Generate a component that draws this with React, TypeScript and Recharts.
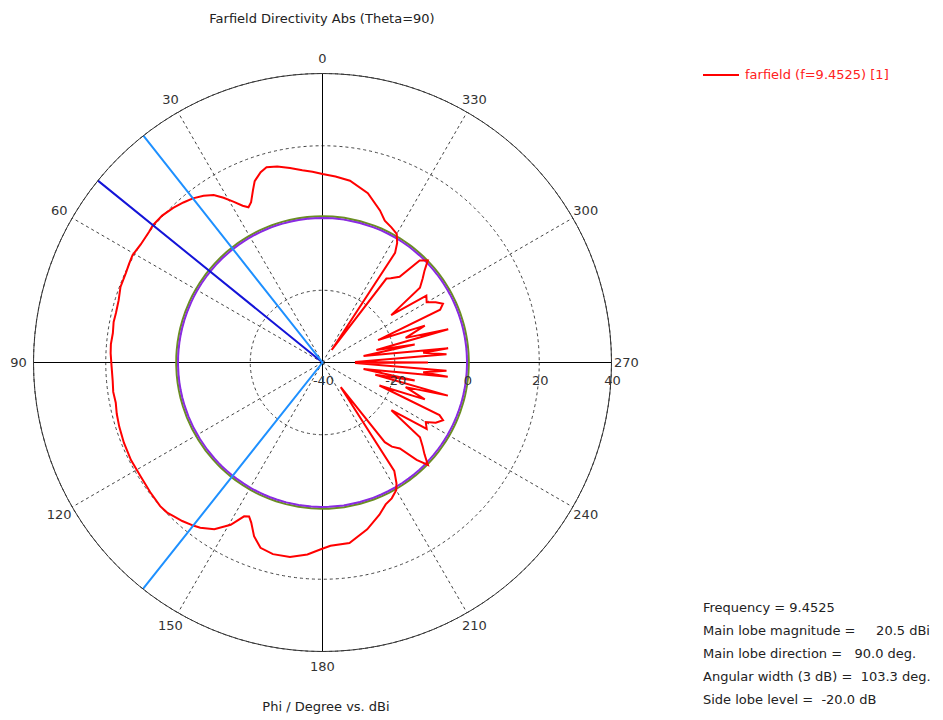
import React from 'react';
import { RadarChart, Radar, PolarGrid, PolarAngleAxis, PolarRadiusAxis, Legend } from 'recharts';

// phi in degrees, farfield directivity in dBi
const PHI = [
  0, 3, 6, 9.5, 13, 16, 18, 20.5, 22, 24,
  25.5, 27, 29, 31, 33, 35.5, 38.3, 41, 44, 47.5,
  51, 53, 57, 60.5, 63, 65.5, 69.5, 73, 76.5, 79,
  82, 85, 87.5, 91, 95, 98, 101, 104, 107.5, 112,
  117, 122, 127, 131.5, 134, 136, 138.5, 141.6, 143.5, 147,
  150.5, 153, 154.5, 156, 158.5, 161.5, 165.5, 170.5, 175.5, 179.5,
  182.5, 188.5, 195, 200.5, 204, 207, 210, 211.5, 213.5, 216.5,
  218, 219.5, 222, 224, 225.8, 228, 230, 232.5, 235.3, 237.5,
  240, 242, 244.4, 245.8, 248, 250.2, 253.5, 255.2, 257, 259,
  261, 263.5, 264.5, 266.2, 269, 270, 271, 273.8, 275.5, 276.5,
  279, 281, 283, 284.8, 286.5, 289.8, 292, 294.2, 296, 298,
  300, 302.8, 304.6, 307.5, 310, 312, 314.1, 316.4, 318, 321,
  322.7, 323.7, 326.5, 328, 330, 333, 336.3, 339.3, 345, 351.4,
  356,
];

const FARFIELD = [
  12.2, 12.9, 13.5, 14.6, 15.7, 16.2, 15.4, 13.6, 11.4, 8.6,
  7.6, 8.7, 10.9, 13.2, 15.3, 16.7, 17.9, 18.7, 19.5, 20.2,
  20.4, 20.1, 20.0, 20.4, 20.1, 19.8, 19.7, 19.0, 18.8, 18.9,
  18.6, 18.8, 18.7, 18.4, 18.3, 18.5, 18.3, 18.7, 19.0, 19.3,
  19.5, 19.4, 19.7, 20.0, 19.8, 19.2, 18.6, 17.6, 16.9, 15.0,
  11.6, 7.8, 7.2, 8.5, 11.7, 14.1, 14.8, 14.6, 13.3, 11.7,
  10.8, 10.5, 7.8, 5.0, 3.0, 2.2, 0.8, -0.8, -4, -31.5,
  -12, -9.8, -8, -2.5, 0.7, -2, -3.8, -6, -16.8, -5.8,
  -7, -4.5, -3.0, -4.5, -23, -9.9, -16, -4.1, -25, -14,
  -28.5, -5.1, -12, -5.6, -31, -10.8, -31, -5.6, -12, -5.0,
  -28.5, -14, -24.7, -4.0, -16, -9.9, -23.4, -4.3, -2.9, -4.5,
  -6.7, -5.8, -16.9, -6, -3.8, -2, 0.6, -1.0, -8.1, -10,
  -10.8, -35.7, -3.6, -1.0, 1.1, 2.0, 2.9, 5.0, 8.5, 10.9,
  11.6,
];

const MAIN_LOBE_PHI = 51;
const BEAM_EDGE_PHI = [38.3, 141.6];
const SIDE_LOBE_DBI = 0.5;
const REF_DBI = 0;
const R_MIN = -40;
const R_MAX = 40;
const ANGLE_TICKS = [0, 30, 60, 90, 120, 150, 180, 210, 240, 270, 300, 330];
const STATS = [
  'Frequency = 9.4525',
  'Main lobe magnitude =     20.5 dBi',
  'Main lobe direction =   90.0 deg.',
  'Angular width (3 dB) =  103.3 deg.',
  'Side lobe level =  -20.0 dB',
];

const data = PHI.map((phi, i) => ({
  phi,
  farfield: FARFIELD[i],
  sll: SIDE_LOBE_DBI,
  ref: REF_DBI,
  main: phi === MAIN_LOBE_PHI ? R_MAX : R_MIN,
  beam: BEAM_EDGE_PHI.includes(phi) ? R_MAX : R_MIN,
}));

const FONT = "'DejaVu Sans', sans-serif";

const AngleTick = (props: any) => {
  const { x, y, payload } = props;
  if (payload.value === 360) return <g />;
  return (
    <text x={x} y={y} textAnchor="middle" dominantBaseline="central" fill="#333" fontSize={13} fontFamily={FONT}>
      {payload.value}
    </text>
  );
};

const RadiusTick = (props: any) => {
  const { x, y, payload } = props;
  return (
    <text x={x + 1} y={y + 18} textAnchor="middle" dominantBaseline="central" fill="#333" fontSize={13} fontFamily={FONT}>
      {payload.value}
    </text>
  );
};

const renderLegend = (props: any) => {
  const items = (props.payload || []).filter((p: any) => p.type !== 'none');
  return (
    <div>
      {items.map((p: any) => (
        <div key={p.value} style={{ display: 'flex', alignItems: 'center', fontFamily: FONT, fontSize: 13 }}>
          <svg width={36} height={4}>
            <line x1={0} y1={2} x2={36} y2={2} stroke={p.color} strokeWidth={2} />
          </svg>
          <span style={{ marginLeft: 6, color: '#ff2020' }}>{p.value}</span>
        </div>
      ))}
    </div>
  );
};

export default function App() {
  return (
    <div style={{ position: 'absolute', left: 0, top: 0, width: 943, height: 720, background: '#fff' }}>
      <div style={{ position: 'absolute', left: 122, top: 11, width: 400, textAlign: 'center', fontFamily: FONT, fontSize: 13, lineHeight: '16px', color: '#222' }}>
        Farfield Directivity Abs (Theta=90)
      </div>
      <RadarChart
        width={943}
        height={720}
        data={data}
        cx={322.5}
        cy={362.5}
        outerRadius={289}
        startAngle={90}
        endAngle={450}
        margin={{ top: 0, right: 0, bottom: 0, left: 0 }}
      >
        <PolarGrid gridType="circle" stroke="#444" strokeDasharray="3 3" />
        <PolarGrid gridType="circle" polarAngles={[0, 90, 180, 270]} polarRadius={[]} stroke="#000" />
        <PolarAngleAxis
          dataKey="phi"
          type="number"
          domain={[0, 360]}
          ticks={ANGLE_TICKS as any}
          tickCount={13}
          tickSize={15}
          tickLine={false}
          axisLineType="circle"
          axisLine={{ stroke: '#333' }}
          tick={AngleTick}
        />
        <PolarRadiusAxis
          angle={0}
          type="number"
          domain={[R_MIN, R_MAX]}
          tickCount={5}
          axisLine={false}
          tickLine={false}
          tick={RadiusTick}
          allowDataOverflow
        />
        <Radar dataKey="sll" stroke="#6b8e23" strokeWidth={2} fill="none" fillOpacity={0} dot={false} legendType="none" isAnimationActive={false} />
        <Radar dataKey="ref" stroke="#8a2be2" strokeWidth={2} fill="none" fillOpacity={0} dot={false} legendType="none" isAnimationActive={false} />
        <Radar name="farfield (f=9.4525) [1]" dataKey="farfield" stroke="#ff0000" strokeWidth={2} fill="none" fillOpacity={0} dot={false} legendType="plainline" isAnimationActive={false} />
        <Radar dataKey="main" stroke="#1414d8" strokeWidth={2} fill="none" fillOpacity={0} dot={false} legendType="none" isAnimationActive={false} />
        <Radar dataKey="beam" stroke="#1e90ff" strokeWidth={2} fill="none" fillOpacity={0} dot={false} legendType="none" isAnimationActive={false} />
        <Legend layout="vertical" align="right" verticalAlign="top" content={renderLegend} wrapperStyle={{ left: 703, top: 67, width: 230 }} />
      </RadarChart>
      <div style={{ position: 'absolute', left: 126, top: 699, width: 400, textAlign: 'center', fontFamily: FONT, fontSize: 13, lineHeight: '16px', color: '#222' }}>
        Phi / Degree vs. dBi
      </div>
      <div style={{ position: 'absolute', left: 703, top: 596, fontFamily: FONT, fontSize: 13, lineHeight: '23px', color: '#222', whiteSpace: 'pre' }}>
        {STATS.map((s) => (
          <div key={s}>{s}</div>
        ))}
      </div>
    </div>
  );
}
